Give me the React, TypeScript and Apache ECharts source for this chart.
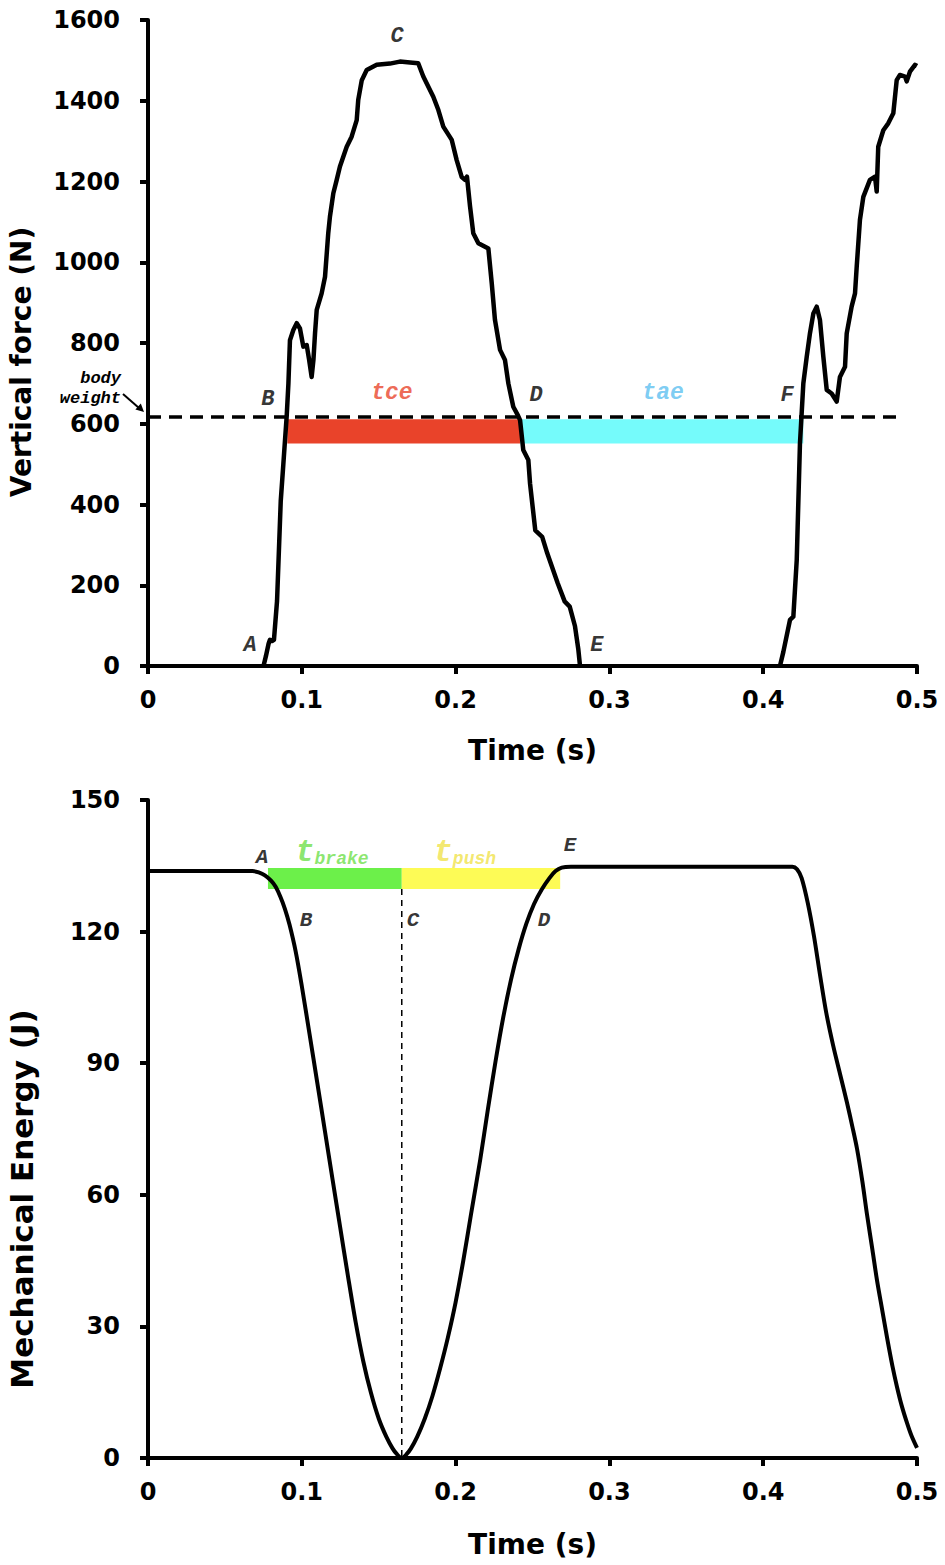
import React, { useEffect, useRef } from "react";
import * as echarts from "echarts";

// ---------- axes ----------
const timeMin = 0;
const timeMax = 0.5;
const timeStep = 0.1;
const forceMin = 0;
const forceMax = 1600;
const forceStep = 200;
const energyMin = 0;
const energyMax = 150;
const energyStep = 30;

const xAxisTitle = "Time (s)";
const forceAxisTitle = "Vertical force (N)";
const energyAxisTitle = "Mechanical Energy (J)";

// ---------- top panel: vertical force ----------
const forceTime = [
  0.0751, 0.0767, 0.0784, 0.0793, 0.0806, 0.0819, 0.0839, 0.0863, 0.088, 0.0902,
  0.0913, 0.0923, 0.0945, 0.0967, 0.0988, 0.101, 0.1032, 0.1047, 0.1064, 0.1076,
  0.1086, 0.1097, 0.1129, 0.1151, 0.1172, 0.1183, 0.1205, 0.1227, 0.1248, 0.1292,
  0.1324, 0.1357, 0.1367, 0.139, 0.1422, 0.1487, 0.1573, 0.1638, 0.1704, 0.1757,
  0.179, 0.1855, 0.1888, 0.192, 0.1975, 0.2007, 0.204, 0.2061, 0.2074, 0.2094,
  0.2115, 0.2148, 0.2213, 0.2235, 0.2256, 0.2289, 0.2321, 0.2343, 0.2375, 0.2406,
  0.2419, 0.244, 0.2473, 0.2484, 0.2518, 0.2563, 0.2596, 0.2664, 0.2709, 0.2742,
  0.2776, 0.2798, 0.2809, 0.35, 0.4109, 0.4131, 0.4174, 0.4196, 0.4218, 0.4239,
  0.4261, 0.4283, 0.4304, 0.4326, 0.4348, 0.4369, 0.4391, 0.4413, 0.4445, 0.4478,
  0.4499, 0.4532, 0.4543, 0.4575, 0.4597, 0.4608, 0.4629, 0.4651, 0.4694, 0.4727,
  0.4738, 0.4748, 0.4781, 0.4813, 0.4846, 0.4868, 0.4889, 0.4922, 0.4933, 0.4954,
  0.4987, 0.5,
];
const forceValue = [
  0, 25, 55, 65, 62, 65, 161, 408, 500, 620,
  700, 807, 832, 849, 836, 791, 795, 760, 716, 760,
  824, 882, 923, 964, 1072, 1113, 1171, 1204, 1237, 1286,
  1311, 1352, 1402, 1451, 1476, 1489, 1492, 1497, 1495, 1493,
  1460, 1410, 1377, 1336, 1303, 1253, 1211, 1204, 1212, 1138,
  1072, 1047, 1034, 948, 857, 783, 758, 700, 642, 620,
  609, 535, 510, 452, 336, 320, 279, 205, 160, 147,
  99, 41, 0, null, 0, 35, 114, 122, 262, 551,
  700, 766, 824, 873, 890, 857, 766, 684, 675, 655,
  716, 741, 824, 890, 923, 989, 1105, 1162, 1204, 1212,
  1175, 1286, 1327, 1344, 1369, 1451, 1464, 1460, 1448, 1472,
  1489, 1486,
];

const bodyWeight = 617;
const bodyWeightLineEnd = 0.49;

const forcePhaseNames = ["tce", "tae"];
const forcePhaseStart = [0.0906, 0.2419];
const forcePhaseEnd = [0.2419, 0.4261];
const forcePhaseColors = ["#e9432a", "#75fbfb"];
const forcePhaseTextColors = ["#e9432a", "#5cc0f0"];
const forcePhaseLow = 551;
const forcePhaseHigh = 611;
const forcePhaseLabelT = [0.1586, 0.3349];
const forcePhaseLabelV = [676, 676];

const forceMarkText = ["A", "B", "C", "D", "E", "F"];
const forceMarkT = [0.0663, 0.078, 0.162, 0.2523, 0.2919, 0.4155];
const forceMarkV = [50, 659, 1558, 671, 50, 671];

// ---------- bottom panel: mechanical energy ----------
const energyTime = [
  0, 0.068, 0.072, 0.076, 0.08, 0.083, 0.086, 0.089, 0.092, 0.096,
  0.1, 0.105, 0.11, 0.115, 0.12, 0.125, 0.13, 0.135, 0.14, 0.145,
  0.15, 0.155, 0.159, 0.162, 0.165, 0.168, 0.171, 0.175, 0.18, 0.185,
  0.19, 0.195, 0.2, 0.205, 0.21, 0.216, 0.221, 0.226, 0.231, 0.236,
  0.241, 0.246, 0.251, 0.256, 0.261, 0.265, 0.269, 0.275, 0.419, 0.422,
  0.425, 0.429, 0.433, 0.437, 0.441, 0.4455, 0.45, 0.4545, 0.458, 0.461,
  0.4645, 0.4675, 0.471, 0.474, 0.4775, 0.4805, 0.484, 0.487, 0.49, 0.4935,
  0.4965, 0.5,
];
const energyValue = [
  133.8, 133.8, 133.5, 132.8, 131.6, 130.2, 128.0, 125.2, 121.6, 115.5,
  107.6, 96.7, 85.7, 74.6, 63.5, 52.5, 41.5, 31, 22, 14.8,
  9, 4.8, 2.2, 0.8, 0, 0.8, 2.2, 4.8, 9, 14.2,
  20.5, 27.5, 35.5, 45, 55.5, 68, 79.5, 90.5, 100.5, 109,
  116, 121.8, 126.3, 129.6, 132.2, 133.8, 134.6, 134.8, 134.8, 134.2,
  132.2, 126.5, 119, 110, 101.5, 94, 87.5, 81, 75.5, 70.5,
  63, 55.5, 47.5, 40.5, 33.5, 27.5, 21, 16.2, 12, 8,
  5, 2.3,
];

const energyPhaseNames = ["brake", "push"];
const energyPhaseStart = [0.078, 0.165];
const energyPhaseEnd = [0.165, 0.268];
const energyPhaseColors = ["#6cf04a", "#fdfb56"];
const energyPhaseTextColors = ["#6ee04a", "#f0e24a"];
const energyPhaseLow = 129.7;
const energyPhaseHigh = 134.5;
const energyPhaseLabelT = [0.1196, 0.206];
const energyPhaseLabelV = [138.1, 138.1];

const minimumTime = 0.165;

const energyMarkText = ["A", "B", "C", "D", "E"];
const energyMarkT = [0.0741, 0.1027, 0.1723, 0.2575, 0.2744];
const energyMarkV = [137, 122.6, 122.6, 122.6, 139.7];

// ---------- styles ----------
const SANS = "DejaVu Sans";
const MONO = "Liberation Mono";

function axisStyle(gridIndex: number) {
  return {
    gridIndex,
    axisLine: { show: true, onZero: false, lineStyle: { color: "#000", width: 4 } },
    axisTick: { show: true, length: 8, lineStyle: { color: "#000", width: 4 } },
    splitLine: { show: false },
    axisLabel: {
      color: "#000",
      fontFamily: SANS,
      fontWeight: "bold" as const,
      fontSize: 24,
      formatter: (v: number) => String(v),
    },
    nameTextStyle: {
      color: "#000",
      fontFamily: SANS,
      fontWeight: "bold" as const,
      fontSize: 28,
    },
  };
}

const markLabelStyle = {
  show: true,
  position: "inside" as const,
  color: "#000",
  fontFamily: MONO,
  fontStyle: "italic" as const,
  fontWeight: "bold" as const,
  fontSize: 22,
};

export default function App() {
  const ref = useRef<HTMLDivElement>(null);

  useEffect(() => {
    if (!ref.current) return;
    const chart = echarts.init(ref.current, undefined, { renderer: "svg" });

    const forceData = forceTime.map((t, i) => [t, forceValue[i]]);
    const energyData = energyTime.map((t, i) => [t, energyValue[i]]);

    const forceAreas = forcePhaseNames.map((_, i) => [
      {
        xAxis: forcePhaseStart[i],
        yAxis: forcePhaseHigh,
        itemStyle: { color: forcePhaseColors[i], opacity: 1 },
      },
      { xAxis: forcePhaseEnd[i], yAxis: forcePhaseLow },
    ]);
    const energyAreas = energyPhaseNames.map((_, i) => [
      {
        xAxis: energyPhaseStart[i],
        yAxis: energyPhaseHigh,
        itemStyle: { color: energyPhaseColors[i], opacity: 1 },
      },
      { xAxis: energyPhaseEnd[i], yAxis: energyPhaseLow },
    ]);

    const forceLabels = [
      ...forceMarkText.map((s, i) => ({
        value: [forceMarkT[i], forceMarkV[i]],
        label: { formatter: s },
      })),
      ...forcePhaseNames.map((s, i) => ({
        value: [forcePhaseLabelT[i], forcePhaseLabelV[i]],
        label: { formatter: s, color: forcePhaseTextColors[i], fontSize: 23 },
      })),
    ];

    const energyLabels = [
      ...energyMarkText.map((s, i) => ({
        value: [energyMarkT[i], energyMarkV[i]],
        label: { formatter: s, fontSize: 21 },
      })),
      ...energyPhaseNames.map((s, i) => ({
        value: [energyPhaseLabelT[i], energyPhaseLabelV[i]],
        label: {
          formatter: "{t|t}{s|" + s + "}",
          rich: {
            t: {
              fontFamily: MONO,
              fontStyle: "italic",
              fontWeight: "bold",
              fontSize: 32,
              color: energyPhaseTextColors[i],
            },
            s: {
              fontFamily: MONO,
              fontStyle: "italic",
              fontWeight: "bold",
              fontSize: 18,
              color: energyPhaseTextColors[i],
              padding: [14, 0, 0, 0],
            },
          },
        },
      })),
    ];

    const option: any = {
      animation: false,
      backgroundColor: "#fff",
      grid: [
        { left: 148, top: 20, width: 769, height: 646 },
        { left: 148, top: 800, width: 769, height: 658 },
      ],
      xAxis: [0, 1].map((g) => ({
        ...axisStyle(g),
        type: "value",
        min: timeMin,
        max: timeMax,
        interval: timeStep,
        name: xAxisTitle,
        nameLocation: "middle",
        nameGap: g === 0 ? 70 : 72,
        axisLabel: { ...axisStyle(g).axisLabel, margin: 22 },
      })),
      yAxis: [
        {
          ...axisStyle(0),
          type: "value",
          min: forceMin,
          max: forceMax,
          interval: forceStep,
          axisLabel: { ...axisStyle(0).axisLabel, margin: 28 },
        },
        {
          ...axisStyle(1),
          type: "value",
          min: energyMin,
          max: energyMax,
          interval: energyStep,
          axisLabel: { ...axisStyle(1).axisLabel, margin: 28 },
        },
      ],
      graphic: [
        {
          type: "text",
          x: 21,
          y: 362,
          rotation: Math.PI / 2,
          style: {
            text: forceAxisTitle,
            fontFamily: SANS,
            fontWeight: "bold",
            fontSize: 28,
            fill: "#000",
            align: "center",
            verticalAlign: "middle",
          },
        },
        {
          type: "text",
          x: 22,
          y: 1199,
          rotation: Math.PI / 2,
          style: {
            text: energyAxisTitle,
            fontFamily: SANS,
            fontWeight: "bold",
            fontSize: 31,
            fill: "#000",
            align: "center",
            verticalAlign: "middle",
          },
        },
        {
          type: "text",
          x: 121,
          y: 378,
          style: {
            text: "body",
            fontFamily: MONO,
            fontStyle: "italic",
            fontWeight: "bold",
            fontSize: 17,
            fill: "#000",
            align: "right",
            verticalAlign: "middle",
          },
        },
        {
          type: "text",
          x: 121,
          y: 398,
          style: {
            text: "weight",
            fontFamily: MONO,
            fontStyle: "italic",
            fontWeight: "bold",
            fontSize: 17,
            fill: "#000",
            align: "right",
            verticalAlign: "middle",
          },
        },
        {
          type: "line",
          shape: { x1: 123, y1: 394, x2: 139, y2: 408 },
          style: { stroke: "#000", lineWidth: 2 },
        },
        {
          type: "polygon",
          shape: {
            points: [
              [144, 412],
              [135.4, 409.6],
              [140.8, 403.6],
            ],
          },
          style: { fill: "#000" },
        },
      ],
      series: [
        {
          type: "line",
          xAxisIndex: 0,
          yAxisIndex: 0,
          data: forceData,
          showSymbol: false,
          connectNulls: false,
          lineStyle: { color: "#000", width: 4.5, join: "round" },
          z: 3,
          silent: true,
          markArea: { silent: true, data: forceAreas },
        },
        {
          type: "line",
          xAxisIndex: 0,
          yAxisIndex: 0,
          data: [
            [timeMin, bodyWeight],
            [bodyWeightLineEnd, bodyWeight],
          ],
          showSymbol: false,
          lineStyle: { color: "#000", width: 3.5, type: [13, 8] },
          z: 2,
          silent: true,
        },
        {
          type: "scatter",
          xAxisIndex: 0,
          yAxisIndex: 0,
          data: forceLabels,
          symbolSize: 1,
          itemStyle: { color: "transparent" },
          label: markLabelStyle,
          clip: false,
          z: 5,
          silent: true,
        },
        {
          type: "line",
          xAxisIndex: 1,
          yAxisIndex: 1,
          data: energyData,
          showSymbol: false,
          smooth: 0.3,
          lineStyle: { color: "#000", width: 4, join: "round" },
          z: 3,
          silent: true,
          markArea: { silent: true, data: energyAreas },
        },
        {
          type: "line",
          xAxisIndex: 1,
          yAxisIndex: 1,
          data: [
            [minimumTime, energyPhaseLow],
            [minimumTime, energyMin],
          ],
          showSymbol: false,
          lineStyle: { color: "#000", width: 1.5, type: [6, 5] },
          z: 2,
          silent: true,
        },
        {
          type: "scatter",
          xAxisIndex: 1,
          yAxisIndex: 1,
          data: energyLabels,
          symbolSize: 1,
          itemStyle: { color: "transparent" },
          label: markLabelStyle,
          clip: false,
          z: 5,
          silent: true,
        },
      ],
    };

    chart.setOption(option);
    return () => chart.dispose();
  }, []);

  return (
    <div
      ref={ref}
      style={{ position: "absolute", left: 0, top: 0, width: 945, height: 1565, background: "#fff" }}
    />
  );
}
